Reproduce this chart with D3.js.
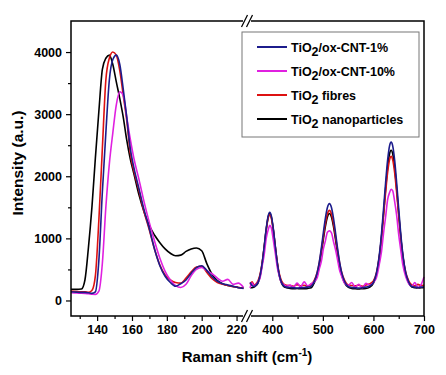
<!DOCTYPE html>
<html>
<head>
<meta charset="utf-8">
<script src="https://cdn.jsdelivr.net/npm/d3@7"></script>
<style>
  body { margin: 0; background: #fff; }
  svg text { font-family: Arial, "Liberation Sans", sans-serif; font-weight: bold; fill: #000; }
</style>
</head>
<body>
<div id="chart"></div>
<script>
// Raman shift grid, low-wavenumber part (cm-1)
const shiftLow = [125, 128, 131, 133, 135, 137, 139, 141, 143, 145, 147, 149, 151, 153, 155, 157, 159, 161,
  164, 167, 170, 173, 176, 179, 182, 185, 188, 191, 194, 197, 200, 203, 206, 209, 212, 215, 218, 221, 224];
// Raman shift grid, high-wavenumber part (cm-1)
const shiftHigh = [356, 360, 364, 368,
  372, 376, 380, 384, 388, 392, 395, 398, 402, 406, 410, 414, 418, 422, 428,
  435, 442, 449, 456, 463, 470, 477,
  483, 489, 493, 497, 501, 505, 509, 513, 517, 521, 525, 529, 533, 537, 543,
  550, 557, 564, 571, 578, 585, 592,
  600, 606, 612, 616, 620, 624, 628, 632, 635, 638, 642, 646, 650, 654, 658, 664, 670,
  676, 682, 688, 694, 700];

const cnt1Low = [140, 135, 130, 130, 125, 115, 140, 650, 1750, 2700, 3550, 3880, 3950, 3800, 3400, 2950, 2450, 2150,
  1800, 1450, 1150, 820, 560, 390, 290, 230, 270, 330, 440, 530, 560, 480, 380, 310, 270, 250, 230, 205, 195];
const cnt10Low = [125, 120, 118, 115, 110, 100, 98, 150, 600, 1500, 2200, 2700, 3150, 3360, 3300, 2950, 2600, 2300,
  1950, 1580, 1250, 950, 680, 470, 330, 240, 210, 260, 400, 500, 530, 480, 430, 360, 310, 340, 260, 280, 210];
const fibresLow = [150, 145, 140, 140, 130, 160, 400, 1300, 2450, 3550, 3900, 4000, 3950, 3700, 3300, 2900, 2380, 2100,
  1770, 1420, 1130, 820, 570, 410, 330, 290, 280, 360, 460, 540, 550, 450, 350, 290, 260, 240, 225, 210, 200];
const nanoLow = [180, 178, 185, 330, 850, 1500, 2300, 3050, 3720, 3900, 3950, 3800, 3520, 3250, 2950, 2580, 2280, 2050,
  1700, 1420, 1200, 1050, 930, 830, 760, 720, 730, 790, 830, 845, 800, 590, 420, 320, 270, 240, 225, 210, 200];

const cnt1High = [290, 240, 225, 250,
  296, 408, 603, 871, 1157, 1367, 1420, 1367, 1157, 871, 603, 408, 296, 241, 215,
  210, 205, 200, 205, 210, 215, 230,
  305, 456, 623, 843, 1092, 1326, 1497, 1560, 1497, 1326, 1092, 843, 623, 456, 305,
  225, 210, 205, 200, 205, 215, 230,
  292, 442, 758, 1078, 1471, 1888, 2255, 2494, 2550, 2494, 2255, 1888, 1471, 1078, 758, 442, 292,
  225, 215, 210, 215, 220];
const cnt10High = [200, 280, 230, 260,
  300, 370, 555, 740, 1000, 1140, 1210, 1170, 975, 760, 530, 390, 285, 260, 230,
  250, 215, 280, 220, 300, 235, 270,
  300, 370, 510, 630, 830, 960, 1100, 1120, 1090, 950, 820, 660, 490, 395, 280,
  240, 290, 215, 260, 205, 275, 250,
  290, 370, 600, 790, 1085, 1340, 1620, 1740, 1790, 1770, 1590, 1365, 1060, 815, 580, 380, 270,
  230, 290, 205, 250, 380];
const fibresHigh = [260, 300, 250, 270,
  321, 427, 611, 862, 1133, 1330, 1380, 1330, 1133, 862, 611, 427, 321, 270, 245,
  240, 230, 255, 235, 245, 230, 260,
  325, 460, 610, 807, 1030, 1241, 1393, 1450, 1393, 1241, 1030, 807, 610, 460, 325,
  250, 240, 235, 245, 230, 250, 265,
  313, 446, 727, 1012, 1361, 1731, 2058, 2270, 2320, 2270, 2058, 1731, 1361, 1012, 727, 446, 313,
  250, 235, 260, 240, 250];
const nanoHigh = [210, 205, 215, 240,
  285, 397, 590, 855, 1140, 1347, 1400, 1347, 1140, 855, 590, 397, 285, 231, 205,
  195, 190, 192, 188, 190, 195, 205,
  284, 418, 567, 763, 984, 1192, 1344, 1400, 1344, 1192, 984, 763, 567, 418, 284,
  215, 195, 188, 185, 190, 192, 210,
  278, 420, 719, 1024, 1397, 1792, 2140, 2367, 2420, 2367, 2140, 1792, 1397, 1024, 719, 420, 278,
  215, 205, 200, 205, 210];

const seriesNames = ["/ox-CNT-1%", "/ox-CNT-10%", " fibres", " nanoparticles"];
const seriesColors = ["#1c1c8c", "#e020e0", "#dd1111", "#000000"];

const xTicksMajor = [140, 160, 180, 200, 220, 400, 500, 600, 700];
const xTicksMinor = [130, 150, 170, 190, 210, 450, 550, 650];
const yTicksMajor = [0, 1000, 2000, 3000, 4000];
const yTicksMinor = [500, 1500, 2500, 3500];

const width = 446, height = 375;
const plotLeft = 71, plotRight = 424, plotTop = 21, plotBottom = 316;
const breakX = 247;

const svg = d3.select("#chart").append("svg")
    .attr("width", width)
    .attr("height", height);

// piecewise scale with an axis break between 226 and 350
const x = d3.scaleLinear()
    .domain([125, 226, 350, 700])
    .range([plotLeft, breakX, breakX, plotRight]);

const y = d3.scaleLinear()
    .domain([-250, 4500])
    .range([plotBottom, plotTop]);

const line = d3.line()
    .x(d => x(d[0]))
    .y(d => y(d[1]))
    .curve(d3.curveMonotoneX);

const series = [
    {low: cnt1Low, high: cnt1High},
    {low: cnt10Low, high: cnt10High},
    {low: fibresLow, high: fibresHigh},
    {low: nanoLow, high: nanoHigh}
];

// drawing order: black first, then red, magenta, blue on top
const order = [3, 2, 1, 0];
const plot = svg.append("g");
order.forEach(i => {
    const s = series[i];
    plot.append("path")
        .attr("d", line(shiftLow.map((v, k) => [v, s.low[k]])))
        .attr("fill", "none")
        .attr("stroke", seriesColors[i])
        .attr("stroke-width", 1.6);
    plot.append("path")
        .attr("d", line(shiftHigh.map((v, k) => [v, s.high[k]])))
        .attr("fill", "none")
        .attr("stroke", seriesColors[i])
        .attr("stroke-width", 1.6);
});

// frame
svg.append("rect")
    .attr("x", plotLeft)
    .attr("y", plotTop)
    .attr("width", plotRight - plotLeft)
    .attr("height", plotBottom - plotTop)
    .attr("fill", "none")
    .attr("stroke", "#000")
    .attr("stroke-width", 1.5);

// x axis
const xAxis = svg.append("g")
    .attr("transform", `translate(0,${plotBottom})`)
    .call(d3.axisBottom(x).tickValues(xTicksMajor).tickSize(5).tickPadding(4));
svg.append("g")
    .attr("transform", `translate(0,${plotBottom})`)
    .call(d3.axisBottom(x).tickValues(xTicksMinor).tickSize(3).tickFormat(""));

// y axis
const yAxis = svg.append("g")
    .attr("transform", `translate(${plotLeft},0)`)
    .call(d3.axisLeft(y).tickValues(yTicksMajor).tickSize(5).tickPadding(4).tickFormat(d3.format("d")));
svg.append("g")
    .attr("transform", `translate(${plotLeft},0)`)
    .call(d3.axisLeft(y).tickValues(yTicksMinor).tickSize(3).tickFormat(""));

svg.selectAll(".domain").remove();
svg.selectAll(".tick line").attr("stroke", "#000").attr("stroke-width", 1.2);
xAxis.selectAll("text").style("font-size", "12.5px").attr("font-family", null);
yAxis.selectAll("text").style("font-size", "12.5px").attr("font-family", null);

// axis break marks
[plotTop, plotBottom].forEach(yy => {
    svg.append("rect")
        .attr("x", breakX - 4)
        .attr("y", yy - 2)
        .attr("width", 8)
        .attr("height", 4)
        .attr("fill", "#fff");
    [-2.5, 2.5].forEach(dx => {
        svg.append("line")
            .attr("x1", breakX + dx - 3)
            .attr("y1", yy + 6)
            .attr("x2", breakX + dx + 3)
            .attr("y2", yy - 6)
            .attr("stroke", "#000")
            .attr("stroke-width", 1.2);
    });
});

// axis titles
const xTitle = svg.append("text")
    .attr("x", 247)
    .attr("y", 362)
    .attr("text-anchor", "middle")
    .style("font-size", "15px");
xTitle.append("tspan").text("Raman shift (cm");
xTitle.append("tspan").text("-1").attr("dy", -6).style("font-size", "10px");
xTitle.append("tspan").text(")").attr("dy", 6);

svg.append("text")
    .attr("transform", "translate(23,163) rotate(-90)")
    .attr("text-anchor", "middle")
    .style("font-size", "15.5px")
    .text("Intensity (a.u.)");

// legend
const legend = svg.append("g");
legend.append("rect")
    .attr("x", 242)
    .attr("y", 32)
    .attr("width", 177)
    .attr("height", 105)
    .attr("fill", "#fff")
    .attr("stroke", "#777")
    .attr("stroke-width", 1);

seriesNames.forEach((name, i) => {
    const ly = 47 + i * 24;
    legend.append("line")
        .attr("x1", 257)
        .attr("x2", 287)
        .attr("y1", ly)
        .attr("y2", ly)
        .attr("stroke", seriesColors[i])
        .attr("stroke-width", 2);
    const t = legend.append("text")
        .attr("x", 291)
        .attr("y", ly + 4.5)
        .style("font-size", "12.5px");
    t.append("tspan").text("TiO");
    t.append("tspan").text("2").attr("dy", 4).style("font-size", "12.5px");
    t.append("tspan").text(name).attr("dy", -4);
});
</script>
</body>
</html>
